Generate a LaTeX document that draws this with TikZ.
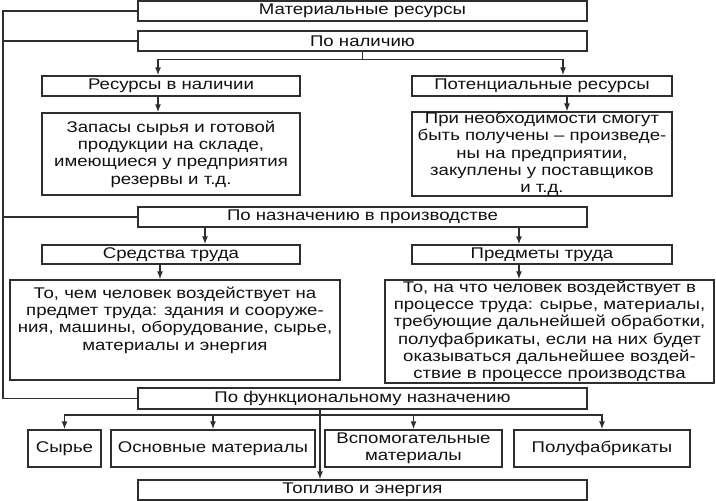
\documentclass[tikz,border=0pt]{standalone}
\usepackage{fontspec}
\setmainfont{Liberation Sans}[FakeStretch=1.2]
\usetikzlibrary{arrows.meta}
\definecolor{SchemeLine}{HTML}{2E2E2E}
\definecolor{SchemeText}{HTML}{111111}
\tikzset{
  resbox/.style={draw=SchemeLine,line width=1.4pt,align=center,inner sep=0pt,font=\fontsize{15.5}{17.3}\selectfont,text=SchemeText,fill=white},
  linkline/.style={line width=1.4pt,draw=SchemeLine},
  linkarrow/.style={-{Latex[length=8pt,width=6pt]},line width=1.4pt,draw=SchemeLine}
}
\begin{document}
\begin{tikzpicture}[x=1pt,y=-1pt]
\useasboundingbox (0,0) rectangle (716,501);
% main headings
\node[resbox,minimum width=449,minimum height=20] (top) at (362.5,11) {Материальные ресурсы};
\node[resbox,minimum width=449,minimum height=20] (nal) at (362.5,41) {По наличию};
\node[resbox,minimum width=449,minimum height=20] (nazn) at (362.5,217) {По назначению в производстве};
\node[resbox,minimum width=449,minimum height=21] (fun) at (362.5,398.5) {По функциональному назначению};
\node[resbox,minimum width=449,minimum height=20] (fuel) at (362.5,490) {Топливо и энергия};
% by availability
\node[resbox,minimum width=258,minimum height=20] (res1) at (171,86) {Ресурсы в наличии};
\node[resbox,minimum width=260,minimum height=20] (res2) at (542,86) {Потенциальные ресурсы};
\node[resbox,minimum width=258,minimum height=82] (d1) at (171,154)
  {Запасы сырья и готовой\\продукции на складе,\\имеющиеся у предприятия\\резервы и т.д.};
\node[resbox,minimum width=260,minimum height=82] (d2) at (542,154)
  {При необходимости смогут\\быть получены -- произведе-\\ны на предприятии,\\закуплены у поставщиков\\и т.д.};
% by purpose
\node[resbox,minimum width=258,minimum height=19] (sr) at (171,254.5) {Средства труда};
\node[resbox,minimum width=260,minimum height=19] (pr) at (542,254.5) {Предметы труда};
\node[resbox,minimum width=330,minimum height=100] (d3) at (175,330)
  {То, чем человек воздействует на\\предмет труда: здания и сооруже-\\ния, машины, оборудование, сырье,\\материалы и энергия\\[6pt]};
\node[resbox,minimum width=329,minimum height=103] (d4) at (549.5,331.5)
  {То, на что человек воздействует в\\процессе труда: сырье, материалы,\\требующие дальнейшей обработки,\\полуфабрикаты, если на них будет\\оказываться дальнейшее воздей-\\ствие в процессе производства};
% by function
\node[resbox,minimum width=73,minimum height=37] (b1) at (64.5,448.5) {Сырье};
\node[resbox,minimum width=204,minimum height=37] (b2) at (213,448.5) {Основные материалы};
\node[resbox,minimum width=177,minimum height=37] (b3) at (413.5,448.5) {Вспомогательные\\материалы};
\node[resbox,minimum width=176,minimum height=37] (b4) at (602,448.5) {Полуфабрикаты};

% left bus
\coordinate (busTop) at (3,11);
\coordinate (busBot) at (3,398.5);
\draw[linkline] (top.west) -- (busTop) -- (busBot) -- (fun.west);
\draw[linkline] (nal.west) -- (nal.west -| busTop);
\draw[linkline] (nazn.west) -- (nazn.west -| busTop);

% connectors
\draw[linkline] (nal.south) -- ++(0,8) coordinate (j1);
\draw[linkarrow] (j1) -| (res1.north -| 158,0);
\draw[linkarrow] (j1) -| (res2.north -| 563,0);
\draw[linkarrow] (res1.south -| 158,0) -- (d1.north -| 158,0);
\draw[linkarrow] (res2.south -| 567,0) -- (d2.north -| 567,0);
\draw[linkarrow] (nazn.south -| 205,0) -- (sr.north -| 205,0);
\draw[linkarrow] (nazn.south -| 519,0) -- (pr.north -| 519,0);
\draw[linkarrow] (sr.south -| 160,0) -- (d3.north -| 160,0);
\draw[linkarrow] (pr.south -| 519,0) -- (d4.north -| 519,0);
\draw[linkarrow] (fun.south -| 320,0) -- (fuel.north -| 320,0);
\coordinate (j2) at (320,415);
\draw[linkarrow] (j2) -| (b1.north);
\draw[linkarrow] (j2) -| (b2.north);
\draw[linkarrow] (j2) -| (b3.north);
\draw[linkarrow] (j2) -| (b4.north);
\end{tikzpicture}
\end{document}
